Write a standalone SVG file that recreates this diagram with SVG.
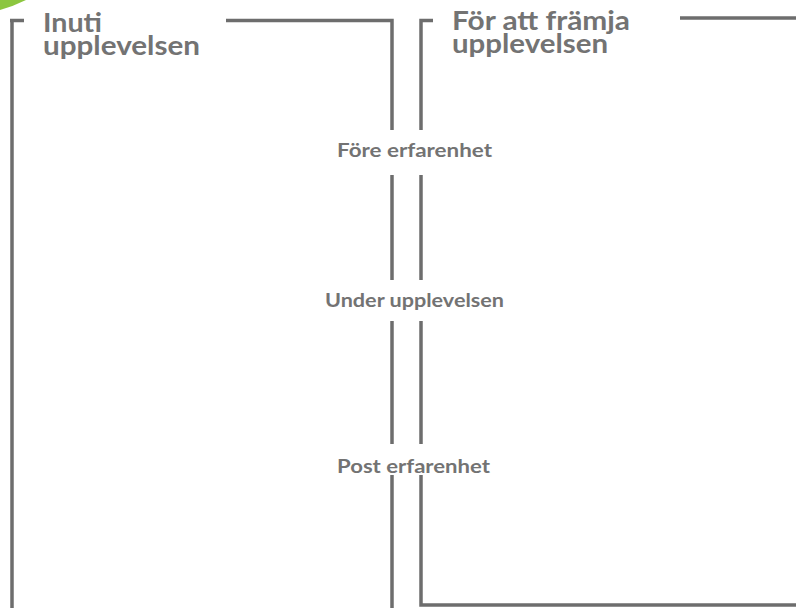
<svg xmlns="http://www.w3.org/2000/svg" width="796" height="608" viewBox="0 0 796 608">
<style>
.ln{stroke:#6d6d6d;stroke-width:3.5;fill:none}
.t{font-family:Lato,"Open Sans",sans-serif;font-weight:bold;fill:#737373}
.h{font-size:27px}
.l{font-size:18.5px}
</style>
<rect width="796" height="608" fill="#ffffff"/>
<path d="M0,0 H26 Q14,6 0,10 Z" fill="#8cc63f"/>
<g id="connectors">
<path class="ln" d="M10,20.5 H24 M12,20.5 V608"/>
<path class="ln" d="M226,20.5 H392 V130 M392,175 V280 M392,321 V444 M392,475 V608"/>
<path class="ln" d="M433,20.5 H421 V130 M421,175 V280 M421,321 V444 M421,475 V605 H796"/>
<path class="ln" d="M680,18 H796"/>
</g>
<g id="title-left">
<text class="t h"><tspan x="43" y="32" textLength="59" lengthAdjust="spacingAndGlyphs">Inuti</tspan><tspan x="43" y="55" textLength="157" lengthAdjust="spacingAndGlyphs">upplevelsen</tspan></text>
</g>
<g id="title-right">
<text class="t h"><tspan x="452" y="30" textLength="178" lengthAdjust="spacingAndGlyphs">För att främja</tspan><tspan x="452" y="53" textLength="156" lengthAdjust="spacingAndGlyphs">upplevelsen</tspan></text>
</g>
<g id="label-fore">
<text class="t l" x="337" y="157" textLength="155" lengthAdjust="spacingAndGlyphs">Före erfarenhet</text>
</g>
<g id="label-under">
<text class="t l" x="325" y="306.5" textLength="179" lengthAdjust="spacingAndGlyphs">Under upplevelsen</text>
</g>
<g id="label-post">
<text class="t l" x="337" y="473" textLength="153" lengthAdjust="spacingAndGlyphs">Post erfarenhet</text>
</g>
</svg>
